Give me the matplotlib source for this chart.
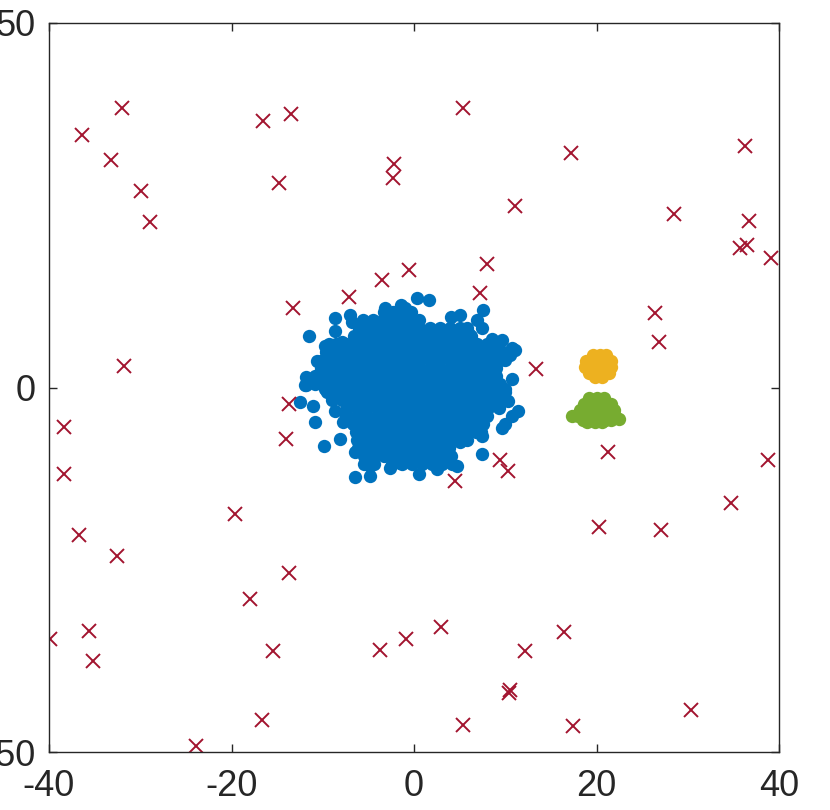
"""Scatter of three clusters plus scattered outliers, MATLAB-style look, saved as out.png."""

import matplotlib
matplotlib.use("Agg")
import matplotlib.pyplot as plt
import numpy as np

plt.rcParams["font.family"] = ["Liberation Sans", "DejaVu Sans"]
plt.rcParams["axes.unicode_minus"] = False

BLUE = "#0072BD"
ORANGE = "#EDB120"
GREEN = "#77AC30"
RED = "#A2142F"

# main cluster (y level, then x positions)
blue_row_y = [10.4, 9.3, 8.2, 7.1, 6.0, 4.9, 3.8, 2.7, 1.6, 0.5, -0.6, -1.7,
              -2.8, -3.9, -5.0, -6.1, -7.2, -8.3, -9.4, -10.5]
blue_row_x = [
    [-3.3, -2.3, -1.2, -0.3],
    [-5.6, -4.5, -3.4, -2.3, -1.2, -0.2, 0.6],
    [-6.0, -4.9, -3.8, -2.7, -1.6, -0.5, 0.6, 1.7, 2.8, 3.9, 5.0, 5.8],
    [-6.6, -5.5, -4.4, -3.3, -2.2, -1.1, 0.0, 1.1, 2.2, 3.3, 4.4, 5.5, 6.3],
    [-9.3, -8.5, -7.4, -6.3, -5.2, -4.1, -3.0, -1.9, -0.8, 0.3, 1.4, 2.5, 3.6,
     4.7, 5.8, 6.9, 8.0, 9.1],
    [-9.6, -8.8, -7.7, -6.6, -5.5, -4.4, -3.3, -2.2, -1.1, 0.0, 1.1, 2.2, 3.3,
     4.4, 5.5, 6.6, 7.7, 8.8, 9.8, 10.4],
    [-10.0, -9.2, -8.1, -7.0, -5.9, -4.8, -3.7, -2.6, -1.5, -0.4, 0.7, 1.8, 2.9,
     4.0, 5.1, 6.2, 7.3, 8.4, 9.4, 10.0],
    [-10.2, -9.3, -8.2, -7.1, -6.0, -4.9, -3.8, -2.7, -1.6, -0.5, 0.6, 1.7, 2.8,
     3.9, 5.0, 6.1, 7.2, 8.3, 9.0],
    [-10.9, -10.0, -9.1, -8.0, -6.9, -5.8, -4.7, -3.6, -2.5, -1.4, -0.3, 0.8,
     1.9, 3.0, 4.1, 5.2, 6.3, 7.4, 8.5, 9.0],
    [-10.8, -9.9, -8.8, -7.7, -6.6, -5.5, -4.4, -3.3, -2.2, -1.1, 0.0, 1.1, 2.2,
     3.3, 4.4, 5.5, 6.6, 7.7, 8.8, 9.4],
    [-9.5, -8.4, -7.3, -6.2, -5.1, -4.0, -2.9, -1.8, -0.7, 0.4, 1.5, 2.6, 3.7,
     4.8, 5.9, 7.0, 8.1, 9.2, 10.0],
    [-9.0, -7.9, -6.8, -5.7, -4.6, -3.5, -2.4, -1.3, -0.2, 0.9, 2.0, 3.1, 4.2,
     5.3, 6.4, 7.5, 8.6, 9.6],
    [-7.3, -6.2, -5.1, -4.0, -2.9, -1.8, -0.7, 0.4, 1.5, 2.6, 3.7, 4.8, 5.9,
     7.0, 8.1, 9.3],
    [-7.4, -6.3, -5.2, -4.1, -3.0, -1.9, -0.8, 0.3, 1.4, 2.5, 3.6, 4.7, 5.8,
     6.9, 8.0],
    [-6.7, -5.6, -4.5, -3.4, -2.3, -1.2, -0.1, 1.0, 2.1, 3.2, 4.3, 5.4, 6.5, 7.6],
    [-6.4, -5.3, -4.2, -3.1, -2.0, -0.9, 0.2, 1.3, 2.4, 3.5, 4.6, 5.7, 6.8, 7.3],
    [-6.2, -5.1, -4.0, -2.9, -1.8, -0.7, 0.4, 1.5, 2.6, 3.7, 4.8, 5.8],
    [-6.1, -5.0, -3.9, -2.8, -1.7, -0.6, 0.5, 1.6, 2.7, 3.8],
    [-5.5, -4.4, -3.3, -2.2, -1.1, 0.0, 1.1, 2.2, 3.3, 4.0],
    [-5.5, -4.4, -2.4, -1.3, -0.2, 0.9, 2.0, 3.1, 4.2],
]

# loose points around the rim of the main cluster
blue_edge_x = [-7.0, -6.8, -8.7, -8.7, -11.5, -9.8, -7.9, -10.6, -11.8, -12.0,
               -9.2, -3.2, -1.4, -4.8, -6.3, 0.3, 1.6, 4.1, 5.0, 7.6, 6.9, 7.4,
               8.5, 9.6, 10.7, 10.5, 2.3, 4.5, 6.0, -0.3, -1.0, -12.5, -11.1,
               -10.9, -8.7, -7.8, -9.9, -8.1, -6.5, -6.5, -4.8, -4.8, -3.9,
               -2.6, -2.6, -1.4, -1.5, -11.8, -9.8, 0.5, 2.5, 4.7, 3.8, 7.4,
               5.0, 7.4, 9.6, 10.0, 10.7, 11.4, 10.3, 10.0, 8.5, -1.0, 1.2,
               3.0, 6.5, 11.1, 10.7]
blue_edge_y = [9.9, 9.0, 9.5, 7.7, 7.1, 5.7, 6.3, 3.6, 1.5, 0.3,
               0.6, 10.9, 11.3, 7.9, 6.7, 12.3, 12.0, 9.7, 10.0, 10.6, 9.2, 8.1,
               6.7, 6.5, 5.4, 4.4, 7.4, 7.2, 7.4, 9.2, 10.9, -2.0, -2.5,
               -4.7, -3.2, -4.8, -8.0, -7.1, -8.9, -12.3, -12.1, -10.7, -7.5,
               -11.0, -9.3, -8.0, -10.3, 0.3, -0.2, -11.9, -11.2, -10.7, -9.6, -9.1,
               -7.5, -6.6, -5.5, -5.0, -3.9, -3.2, -1.8, -0.2, -2.2, -10.0, -8.2,
               -7.1, -5.7, 5.1, 1.2]

orange_x = [19.6, 20.4, 21.0, 18.8, 19.6, 20.4, 21.2, 21.6,
            18.7, 19.5, 20.3, 21.1, 21.6, 19.2, 20.0, 20.8, 21.4, 19.8, 20.6]
orange_y = [4.4, 4.4, 4.4, 3.6, 3.6, 3.6, 3.6, 3.6,
            2.8, 2.8, 2.8, 2.8, 2.8, 2.0, 2.0, 2.0, 2.0, 1.5, 1.5]

green_x = [19.2, 20.0, 20.8, 18.6, 19.4, 20.2, 21.0, 21.6,
           18.2, 19.0, 19.8, 20.6, 21.4, 21.9,
           17.3, 18.0, 18.8, 19.6, 20.4, 21.2, 22.0,
           18.5, 19.3, 20.1, 20.9, 21.6, 22.5, 19.0, 19.8, 20.6]
green_y = [-1.5, -1.5, -1.5, -2.3, -2.3, -2.3, -2.3, -2.3,
           -3.1, -3.1, -3.1, -3.1, -3.1, -3.1,
           -3.9, -3.9, -3.9, -3.9, -3.9, -3.9, -3.9,
           -4.5, -4.5, -4.5, -4.5, -4.5, -4.3, -4.8, -4.8, -4.8]

red_x = [5.4, -32.0, -36.4, -16.5, -13.5, -33.2, -29.9, -28.9, -14.8, -2.2,
         -2.3, 17.2, 36.3, 11.1, 28.5, 36.7, 36.5, 35.7, 39.1, 8.0,
         -3.5, -0.5, -7.1, 7.2, -13.3, 26.4, 26.8, -31.8, 13.4, -38.4,
         -13.7, -14.0, -38.4, 21.3, 9.4, 10.3, 4.5, 38.8, -19.6, 34.7,
         20.3, 27.1, -36.7, -32.5, -13.7, -18.0, 3.0, -35.6, -39.9, -0.9,
         -3.7, 16.4, 12.2, -15.5, -35.2, 10.5, 10.4, -16.7, 5.4, 17.4,
         30.4, -23.9]
red_y = [38.3, 38.3, 34.6, 36.5, 37.5, 31.2, 26.9, 22.7, 28.0, 30.6,
         28.8, 32.1, 33.1, 24.9, 23.8, 22.9, 19.6, 19.1, 17.7, 16.9,
         14.8, 16.1, 12.4, 12.9, 10.9, 10.2, 6.2, 2.9, 2.5, -5.4,
         -2.2, -7.0, -11.8, -8.9, -9.9, -11.5, -12.8, -9.9, -17.3, -15.9,
         -19.1, -19.6, -20.2, -23.1, -25.5, -29.0, -32.8, -33.4, -34.5, -34.5,
         -36.0, -33.5, -36.1, -36.1, -37.5, -41.5, -41.9, -45.6, -46.3, -46.4,
         -44.2, -49.2]

x_ticks = [-40, -20, 0, 20, 40]
y_ticks = [-50, 0, 50]

blue_x = np.concatenate([np.array(row) for row in blue_row_x] + [np.array(blue_edge_x)])
blue_y = np.concatenate([np.full(len(row), yv) for row, yv in zip(blue_row_x, blue_row_y)]
                        + [np.array(blue_edge_y)])

fig = plt.figure(figsize=(8.3, 8.1), dpi=100)
ax = fig.add_axes([49 / 830, 58 / 810, 730 / 830, 729 / 810])

dot_size = 92
ax.scatter(blue_x, blue_y, s=dot_size, color=BLUE, linewidths=0)
ax.scatter(orange_x, orange_y, s=dot_size, color=ORANGE, linewidths=0)
ax.scatter(green_x, green_y, s=dot_size, color=GREEN, linewidths=0)
ax.plot(red_x, red_y, linestyle="none", marker="x", markersize=10,
        markeredgewidth=1.4, color=RED)

ax.set_xlim(-40, 40)
ax.set_ylim(-50, 50)
ax.set_xticks(x_ticks)
ax.set_yticks(y_ticks)
ax.tick_params(direction="in", length=6, width=1.0, color="#262626",
               labelsize=26, labelcolor="#262626", top=True, right=True)
ax.tick_params(axis="x", pad=12)
ax.tick_params(axis="y", pad=9.5)
for spine in ax.spines.values():
    spine.set_color("#262626")
    spine.set_linewidth(1.0)

fig.savefig("out.png", dpi=100)
plt.close(fig)
